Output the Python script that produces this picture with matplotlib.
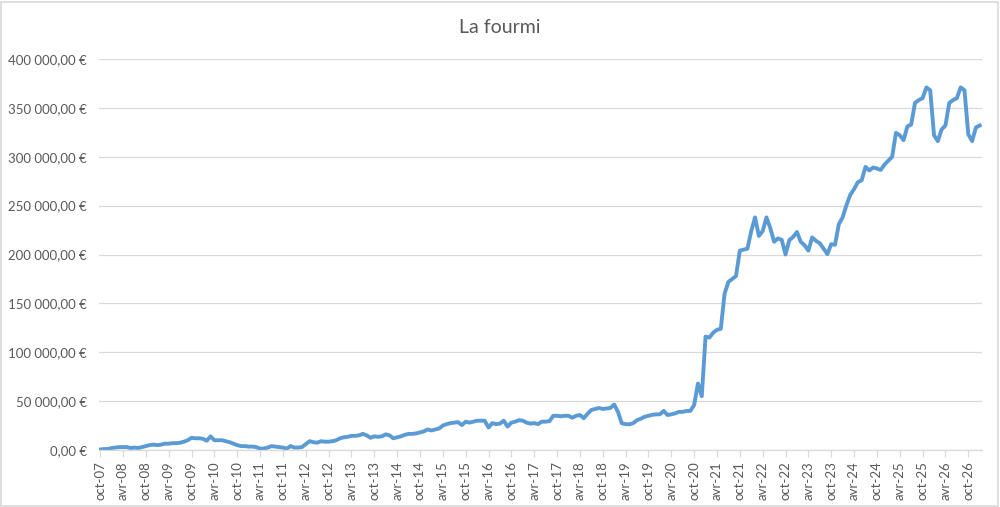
import numpy as np
import pandas as pd
import matplotlib
matplotlib.use("Agg")
import matplotlib.pyplot as plt
from matplotlib.patches import Rectangle
from matplotlib.ticker import FuncFormatter, MultipleLocator

# valeurs mensuelles (en milliers d'euros), de oct-07 a jan-27
valeurs_k = [
    0.5, 1, 1, 2, 2.5, 3,                      # oct-07 .. mar-08
    3, 3, 2, 2.5, 2, 3,                        # avr-08 .. sep-08
    4, 5, 5.5, 5, 5.5, 6.5,                    # oct-08 .. mar-09
    6.5, 7, 7, 7.5, 8.5, 10,                   # avr-09 .. sep-09
    12.5, 12, 12, 11.5, 9.5, 14,               # oct-09 .. mar-10
    10, 10, 10, 9, 8, 6.5,                     # avr-10 .. sep-10
    5, 4, 4, 3.5, 3.5, 3,                      # oct-10 .. mar-11
    1.5, 1.5, 2.5, 4, 3.5, 3,                  # avr-11 .. sep-11
    2.5, 1.5, 4, 2.5, 2.5, 3,                  # oct-11 .. mar-12
    6, 9, 8, 7.5, 9, 8.5,                      # avr-12 .. sep-12
    8.5, 9, 10, 12, 13, 13.5,                  # oct-12 .. mar-13
    14.5, 14.5, 15, 16.5, 15, 12.5,            # avr-13 .. sep-13
    14, 13.5, 14, 16, 15, 12,                  # oct-13 .. mar-14
    13, 14, 15.5, 16.5, 16.5, 17,              # avr-14 .. sep-14
    18, 19, 21, 20, 21, 22,                    # oct-14 .. mar-15
    25, 26.5, 27.5, 28, 28.5, 25.5,            # avr-15 .. sep-15
    29, 28, 29, 30, 30, 30,                    # oct-15 .. mar-16
    23, 27.5, 26.5, 27, 30, 24,                # avr-16 .. sep-16
    28, 29, 30.5, 30, 28, 27,                  # oct-16 .. mar-17
    27.5, 26.5, 29, 29, 29.5, 35,              # avr-17 .. sep-17
    35, 34.5, 35, 35, 33, 35,                  # oct-17 .. mar-18
    35.8, 32.5, 37, 41, 42, 43,                # avr-18 .. sep-18
    42, 42.5, 43, 46.5, 39, 27.3,              # oct-18 .. mar-19
    26.5, 26.3, 27.5, 30.5, 32, 34,            # avr-19 .. sep-19
    35, 36, 36.5, 36.5, 40, 35.8,              # oct-19 .. mar-20
    36.5, 37.5, 39, 39, 40, 40,                # avr-20 .. sep-20
    46, 68, 55, 116, 115, 120,                 # oct-20 .. mar-21
    123, 124, 160, 172, 175, 178,              # avr-21 .. sep-21
    204, 205, 206, 224, 238, 219,              # oct-21 .. mar-22
    224, 238, 227, 213, 216.5, 215,            # avr-22 .. sep-22
    200, 214.7, 218, 223, 213, 209.5,          # oct-22 .. mar-23
    204, 217.5, 214, 211.5, 206, 200.4,        # avr-23 .. sep-23
    210.6, 210, 231, 238, 250.5, 261,          # oct-23 .. mar-24
    267, 274, 276, 289.7, 286, 289,            # avr-24 .. sep-24
    288, 286.5, 292, 296, 300, 324.5,          # oct-24 .. mar-25
    322, 317, 331, 333, 355, 358,              # avr-25 .. sep-25
    360, 371, 368, 322, 316, 328,              # oct-25 .. mar-26
    332, 355, 358, 360, 371, 368,              # avr-26 .. sep-26
    323, 316, 330, 332,                        # oct-26 .. jan-27
]

etiquettes = [
    "oct-07", "avr-08", "oct-08", "avr-09", "oct-09", "avr-10", "oct-10",
    "avr-11", "oct-11", "avr-12", "oct-12", "avr-13", "oct-13", "avr-14",
    "oct-14", "avr-15", "oct-15", "avr-16", "oct-16", "avr-17", "oct-17",
    "avr-18", "oct-18", "avr-19", "oct-19", "avr-20", "oct-20", "avr-21",
    "oct-21", "avr-22", "oct-22", "avr-23", "oct-23", "avr-24", "oct-24",
    "avr-25", "oct-25", "avr-26", "oct-26",
]

titre = "La fourmi"

valeurs = np.array(valeurs_k) * 1000
mois = np.arange(len(valeurs))

gris_texte = "#595959"
gris_grille = "#d9d9d9"
bleu = "#5B9BD5"

plt.rcParams['font.family'] = ['Lato', 'DejaVu Sans']

fig = plt.figure(figsize=(10, 5.07), dpi=100)
ax = fig.add_axes([0.099, 0.1124, 0.883, 0.7712])

ax.plot(mois, valeurs, color=bleu, linewidth=2.8, solid_joinstyle='round')

ax.set_ylim(0, 400000)
ax.yaxis.set_major_locator(MultipleLocator(50000))

def format_euro(v, pos):
    s = f"{v:,.2f}".replace(",", " ").replace(".", ",")
    return s + " €"

ax.yaxis.set_major_formatter(FuncFormatter(format_euro))
ax.grid(axis='y', color=gris_grille, linewidth=0.9)
ax.set_axisbelow(True)

ax.set_xlim(-0.3, 231.6)
ax.set_xticks(np.arange(0, 6 * len(etiquettes), 6))
ax.set_xticklabels(etiquettes, rotation=90)

for side in ['top', 'right', 'left']:
    ax.spines[side].set_visible(False)
ax.spines['bottom'].set_color(gris_grille)
ax.spines['bottom'].set_linewidth(0.9)

ax.tick_params(axis='y', length=0, pad=9, labelsize=9.5, labelcolor=gris_texte)
ax.tick_params(axis='x', length=5, width=0.9, color=gris_grille, pad=3,
               labelsize=9.5, labelcolor=gris_texte)

fig.text(0.5, 0.945, titre, ha='center', va='center', fontsize=14, color=gris_texte)

# cadre du graphique
fig.patches.append(Rectangle((0.001, 0.002), 0.997, 0.995, transform=fig.transFigure,
                             fill=False, edgecolor=gris_grille, linewidth=1.2))

fig.savefig("out.png", dpi=100)
